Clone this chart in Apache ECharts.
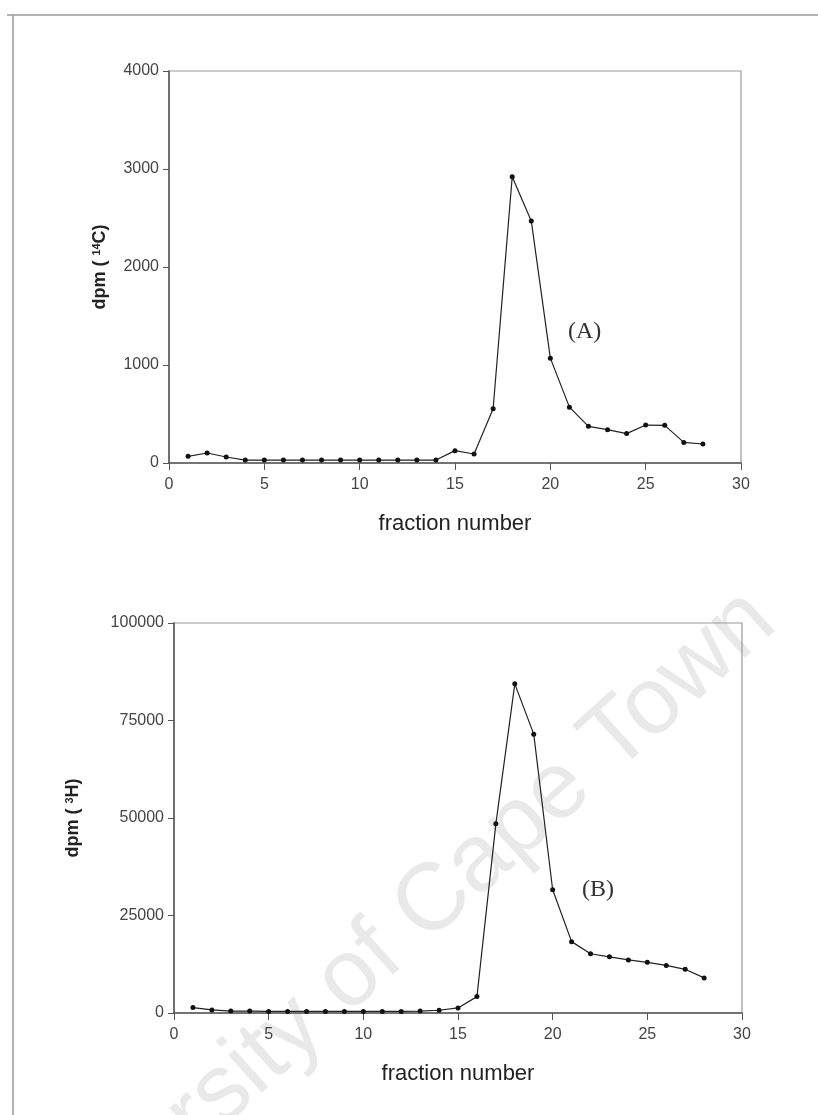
<!DOCTYPE html>
<html>
<head>
<meta charset="utf-8">
<script src="https://cdn.jsdelivr.net/npm/echarts@6/dist/echarts.min.js"></script>
<style>
html,body{margin:0;padding:0;background:#fff;}
#chart{width:818px;height:1115px;}
</style>
</head>
<body>
<div id="chart"></div>
<script>
// fraction numbers
const fractions = [1,2,3,4,5,6,7,8,9,10,11,12,13,14,15,16,17,18,19,20,21,22,23,24,25,26,27,28];
// dpm (14C) – panel A
const c14 = [68,102,61,30,30,30,30,30,30,30,30,30,30,30,126,92,553,2920,2470,1070,570,374,340,300,387,384,210,194];
// dpm (3H) – panel B
const h3 = [1400,800,500,500,400,400,400,400,400,400,400,400,500,700,1300,4200,48500,84400,71500,31600,18300,15200,14400,13600,13000,12200,11200,9000];
// tick setup
const xTicks = {min:0, max:30, interval:5};
const yTicksA = {min:0, max:4000, interval:1000};
const yTicksB = {min:0, max:100000, interval:25000};
const xTitle = 'fraction number';
const panelLabels = ['(A)', '(B)'];
const watermark = 'University of Cape Town';

const pairs = (ys) => fractions.map((f,i)=>[f, ys[i]]);

const FONT = '"Liberation Sans", Arial, sans-serif';
const axisColor = '#555';
const tickLabel = {color:'#444', fontSize:16, fontFamily:FONT, formatter:(v)=>String(v)};

function xAxis(gridIndex){
  return {
    type:'value', gridIndex, min:xTicks.min, max:xTicks.max, interval:xTicks.interval,
    name:xTitle, nameLocation:'middle', nameGap:50,
    nameTextStyle:{fontSize:22, color:'#222', fontFamily:FONT},
    axisLine:{show:true, lineStyle:{color:axisColor, width:1.5}},
    axisTick:{show:true, length:7, lineStyle:{color:axisColor}},
    axisLabel:Object.assign({margin:14}, tickLabel),
    splitLine:{show:false}
  };
}
function yAxis(gridIndex, t, iso, gap){
  return {
    type:'value', gridIndex, min:t.min, max:t.max, interval:t.interval,
    name:'{n|dpm ( }{s|' + iso[0] + '}{n|' + iso[1] + ')}',
    nameLocation:'middle', nameRotate:90, nameGap:gap,
    nameTextStyle:{
      fontFamily:FONT, color:'#222',
      rich:{
        n:{fontSize:18, fontWeight:'bold', fontFamily:FONT, color:'#222'},
        s:{fontSize:11, fontWeight:'bold', fontFamily:FONT, color:'#222', verticalAlign:'top'}
      }
    },
    axisLine:{show:true, lineStyle:{color:axisColor, width:1.5}},
    axisTick:{show:true, length:6, lineStyle:{color:axisColor}},
    axisLabel:Object.assign({margin:10}, tickLabel),
    splitLine:{show:false}
  };
}
function lineSeries(idx, ys, label, at){
  return {
    type:'line', xAxisIndex:idx, yAxisIndex:idx, data:pairs(ys),
    symbol:'circle', symbolSize:5, showSymbol:true,
    lineStyle:{color:'#222', width:1.2},
    itemStyle:{color:'#111'},
    z:3,
    markPoint:{
      symbol:'circle', symbolSize:0, silent:true,
      data:[{coord:at}],
      label:{show:true, position:'inside', formatter:label,
             fontFamily:'"Liberation Serif", "Times New Roman", serif', fontSize:24, color:'#333'}
    }
  };
}

const chart = echarts.init(document.getElementById('chart'), null, {renderer:'canvas'});
chart.setOption({
  animation:false,
  backgroundColor:'#fff',
  grid:[
    {left:169, width:572, top:71, height:392, show:true, borderColor:'#999', borderWidth:1.2, containLabel:false},
    {left:174, width:568, top:623, height:390, show:true, borderColor:'#999', borderWidth:1.2, containLabel:false}
  ],
  xAxis:[xAxis(0), xAxis(1)],
  yAxis:[yAxis(0, yTicksA, ['14','C'], 60), yAxis(1, yTicksB, ['3','H'], 92)],
  series:[
    lineSeries(0, c14, panelLabels[0], [21.8, 1340]),
    lineSeries(1, h3, panelLabels[1], [22.4, 31600])
  ],
  graphic:[
    {type:'line', z:-5, shape:{x1:7, y1:15, x2:818, y2:15}, style:{stroke:'#999', lineWidth:1.5}},
    {type:'line', z:-5, shape:{x1:13, y1:15, x2:13, y2:1115}, style:{stroke:'#999', lineWidth:1.5}},
    {type:'text', z:-10, x:381, y:950, rotation:0.733,
     style:{text:watermark, font:'95px "Liberation Sans", Arial, sans-serif', fill:'#e9e9e9',
            textAlign:'center', textVerticalAlign:'middle', align:'center', verticalAlign:'middle'}}
  ]
});
</script>
</body>
</html>
